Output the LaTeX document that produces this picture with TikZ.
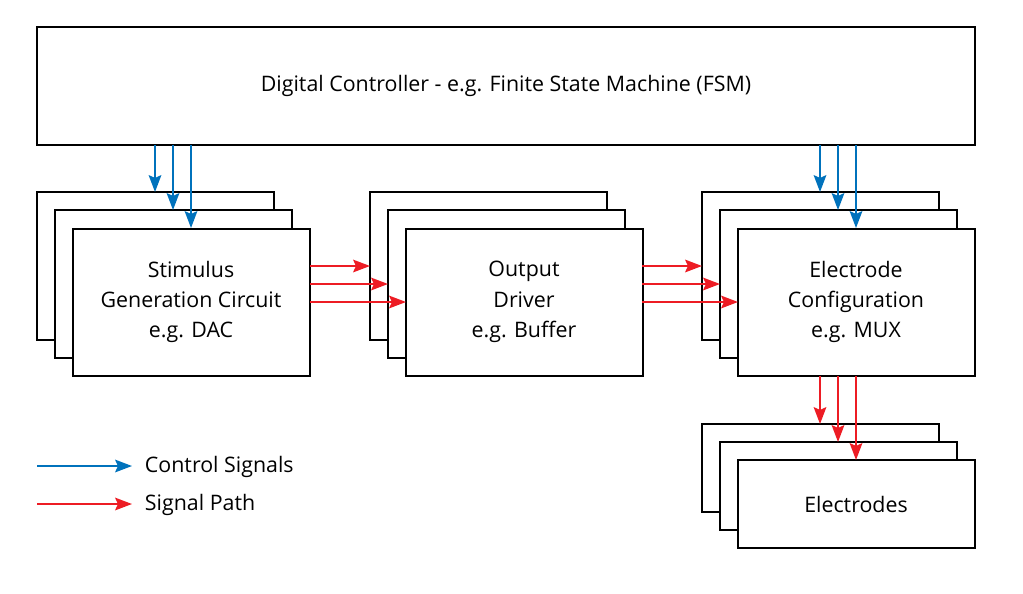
\documentclass[tikz,border=0pt]{standalone}
\usepackage{fontspec}
\setmainfont{Open Sans}
\usetikzlibrary{arrows.meta}
\definecolor{cblue}{RGB}{0,114,188}
\definecolor{cred}{RGB}{237,28,36}
\begin{document}
\begin{tikzpicture}[x=0.025cm,y=-0.025cm,
 box/.style={draw,line width=1pt,fill=white},
 lab/.style={font=\fontsize{15.2}{21.5}\selectfont,align=center},
 ctl/.style={cblue,line width=1.2pt,-{Stealth[length=12pt,width=9pt,inset=2pt]}},
 sig/.style={cred,line width=1.2pt,-{Stealth[length=12pt,width=9pt,inset=2pt]}}]
\useasboundingbox (0,0) rectangle (1023,593);
\draw[box] (37,27) rectangle (975,145);
\node[lab] (fsm) at (506,86) {Digital Controller - e.g. Finite State Machine (FSM)};
\foreach \x/\n in {37/s,370/o,702/e}{
 \draw[box] (\x,192) rectangle +(237,148);
 \draw[box] (\x+18,210) rectangle +(237,148);
 \draw[box] (\x+36,229) rectangle +(237,147);
}
\draw[box] (702,424) rectangle +(237,88);
\draw[box] (720,442) rectangle +(237,88);
\draw[box] (738,460) rectangle +(237,88);
\node[lab] (stim) at (191,302) {Stimulus\\Generation Circuit\\e.g. DAC};
\node[lab] (drv) at (524,302) {Output\\Driver\\e.g. Buffer};
\node[lab] (mux) at (856,302) {Electrode\\Configuration\\e.g. MUX};
\node[lab] (el) at (856,504) {Electrodes};
\foreach \i in {0,1,2}{
 \draw[ctl] (155+18*\i,145) -- (155+18*\i,192+18*\i);
 \draw[ctl] (820+18*\i,145) -- (820+18*\i,192+18*\i);
 \draw[sig] (310,266+18*\i) -- (370+18*\i,266+18*\i);
 \draw[sig] (642,266+18*\i) -- (702+18*\i,266+18*\i);
 \draw[sig] (820+18*\i,376) -- (820+18*\i,424+18*\i);
}
\coordinate (l1) at (37,466); \coordinate (l2) at (132,466);
\coordinate (l3) at (37,504); \coordinate (l4) at (132,504);
\draw[ctl] (l1) -- (l2);
\draw[sig] (l3) -- (l4);
\node[lab,anchor=west] (t1) at (140,467) {Control Signals};
\node[lab,anchor=west] (t2) at (140,505) {Signal Path};
\end{tikzpicture}
\end{document}
